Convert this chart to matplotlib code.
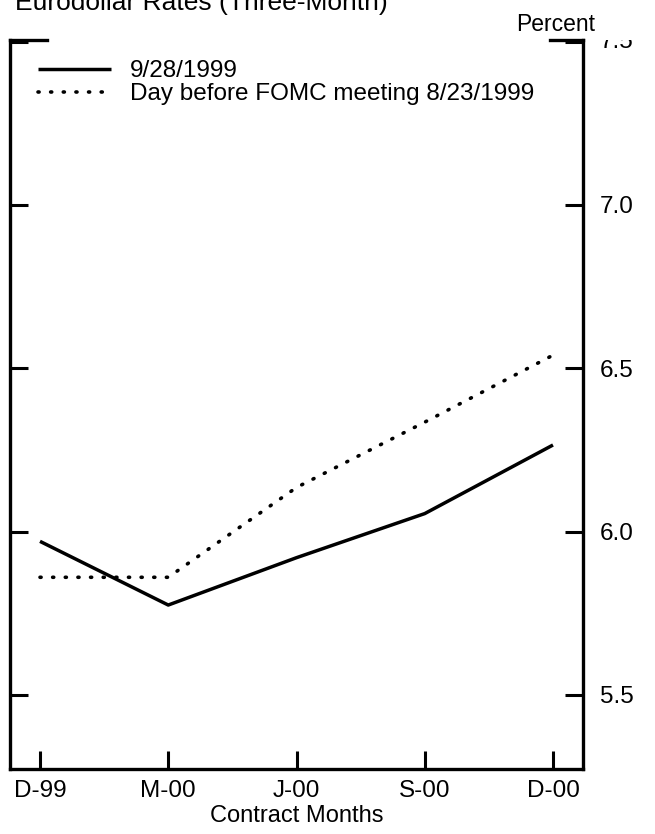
import matplotlib
matplotlib.use("Agg")
import matplotlib.pyplot as plt
from matplotlib.ticker import FixedLocator, FuncFormatter
from matplotlib.transforms import Bbox, TransformedBbox, blended_transform_factory

plt.rcParams['font.family'] = ['Liberation Sans', 'DejaVu Sans']

# contract months and rates (percent)
months = ["D-99", "M-00", "J-00", "S-00", "D-00"]
rates_0928 = [5.97, 5.775, 5.92, 6.055, 6.265]
rates_0823 = [5.86, 5.86, 6.135, 6.335, 6.54]
yticks = [5.5, 6.0, 6.5, 7.0, 7.5]

fig = plt.figure(figsize=(6.55, 8.34), dpi=100)
ax = fig.add_axes([10 / 655, 1 - 769 / 834, 573 / 655, 729 / 834])

x = range(len(months))
ax.plot(x, rates_0928, color="black", lw=2.5, solid_capstyle="butt",
        label="9/28/1999")
ax.plot(x, rates_0823, color="black", lw=2.6, linestyle=(0, (0.3, 3.2)),
        dash_capstyle="round", label="Day before FOMC meeting 8/23/1999")

ax.set_xlim(-0.234, 4.234)
ax.set_ylim(5.273, 7.505)

ax.set_xticks(list(x))
ax.set_xticklabels(months)
ax.yaxis.set_major_locator(FixedLocator(yticks))
ax.yaxis.set_major_formatter(FuncFormatter(lambda v, p: "" if v > 7.4 else f"{v:.1f}"))
ax.tick_params(axis="x", direction="in", length=13, width=2.2, labelsize=17.5, pad=8)
ax.tick_params(axis="y", direction="in", length=13, width=2.2, labelsize=17.5, pad=12,
               left=True, right=True, labelleft=False, labelright=True)
ax.set_xlabel("Contract Months", fontsize=17, labelpad=2)

for s in ["left", "right", "bottom"]:
    ax.spines[s].set_linewidth(2.4)
ax.spines["top"].set_visible(False)
# short corner pieces of the top frame
ax.plot([0, 0.065], [1, 1], transform=ax.transAxes, color="black", lw=2.4,
        solid_capstyle="projecting", clip_on=False)
ax.plot([0.942, 1], [1, 1], transform=ax.transAxes, color="black", lw=2.4,
        solid_capstyle="projecting", clip_on=False)

# top tick label, cut off as in the original
trans = blended_transform_factory(ax.transAxes, ax.transData)
t = ax.text(1.0 + 17 / 573, 7.5, "7.5", transform=trans, fontsize=17.5,
            va="center", ha="left")
t.set_clip_box(TransformedBbox(Bbox([[0, 0], [1, 1 - 40 / 834]]), fig.transFigure))
t.set_clip_on(True)

leg = ax.legend(loc="upper left", bbox_to_anchor=(28 / 573, 1 - 20 / 729),
                frameon=False, fontsize=17.5, handlelength=3.0, handletextpad=0.8,
                labelspacing=0.05, borderpad=0, borderaxespad=0)

fig.text(595 / 655, 1 - 31 / 834, "Percent", ha="right", va="baseline", fontsize=16.5)
fig.text(15 / 655, 1 - 10 / 834, "Eurodollar Rates (Three-Month)", ha="left",
         va="baseline", fontsize=19)

fig.savefig("out.png", dpi=100)
